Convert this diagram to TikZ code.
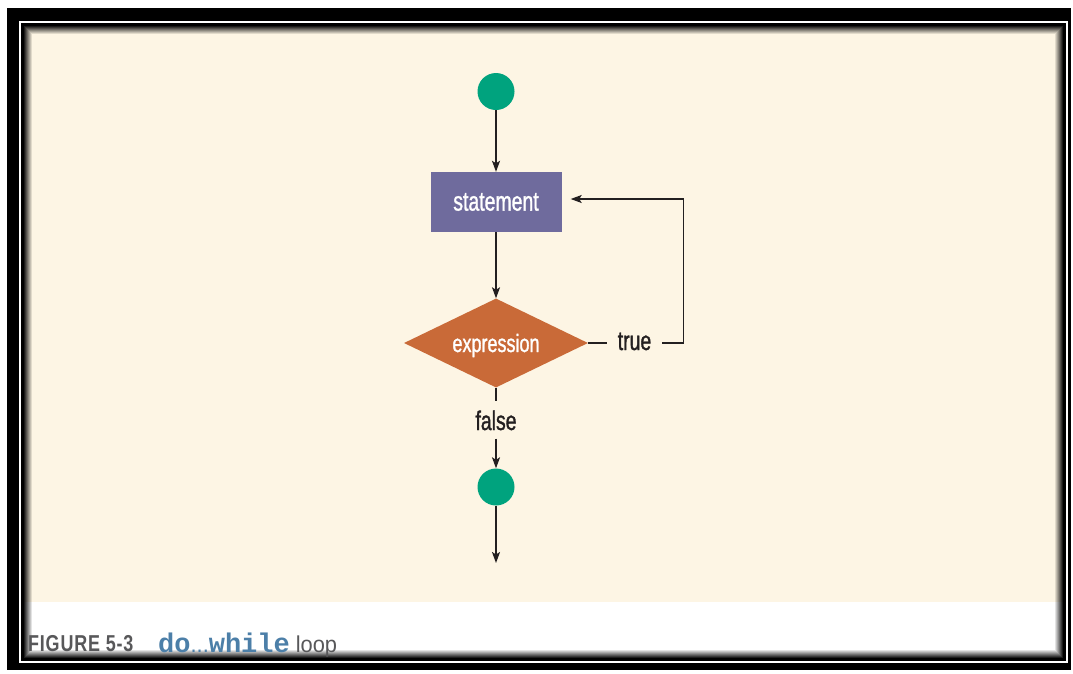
\documentclass[tikz,border=0pt]{standalone}
\usepackage{fontspec}
\usetikzlibrary{arrows.meta,shapes.geometric}

% condensed label face and caption faces
\newfontfamily\labfont[FakeStretch=0.72,FakeBold=1.2]{Liberation Sans}
\newfontfamily\capfont[FakeStretch=0.78,LetterSpace=3.5]{Liberation Sans}
\newfontfamily\plainfont[FakeStretch=0.95]{Liberation Sans}
\newfontfamily\codefont{Liberation Mono}

\definecolor{panelcream}{HTML}{FDF5E4}
\definecolor{termgreen}{HTML}{00A37E}
\definecolor{stmtpurple}{HTML}{6F6B9D}
\definecolor{decorange}{HTML}{C96A38}
\definecolor{linedark}{HTML}{231F20}
\definecolor{capgray}{HTML}{58585A}
\definecolor{codeblue}{HTML}{4C7FA8}

\begin{document}
\begin{tikzpicture}[x=1pt,y=-1pt,
  terminal/.style={circle, fill=termgreen, minimum size=37pt, inner sep=0pt},
  stmtbox/.style={rectangle, fill=stmtpurple, minimum width=131pt, minimum height=60pt,
    inner sep=0pt, text=white, font=\labfont\fontsize{27}{30}\selectfont},
  decision/.style={diamond, aspect=2.07, fill=decorange, minimum width=184pt, minimum height=89pt,
    inner sep=0pt, text=white, text height=18pt, text depth=0pt,
    font=\labfont\fontsize{25}{28}\selectfont},
  branchlabel/.style={text=linedark, inner ysep=0pt, font=\labfont\fontsize{27}{30}\selectfont},
  link/.style={draw=linedark, line width=1.5pt},
  flow/.style={link, -{Stealth[length=11pt,width=8pt,inset=2.5pt]}}
]
\useasboundingbox (0,0) rectangle (1073,673);

% frame: black border, thin white rule, panel with inner shadow
\fill[white] (0,0) rectangle (1073,673);
\fill[black] (7,8) rectangle (1071,670);
\draw[white, line width=2pt] (20,22) rectangle (1067,662);
\fill[white] (21,23) rectangle (1066,661);
\fill[panelcream] (21,23) rectangle (1066,602);
\foreach \i in {0,...,11}{
  \pgfmathsetmacro{\op}{min(1,max(0,1-(\i-2)/9))}
  \draw[black, line width=1pt, draw opacity=\op]
    ({21+\i+0.5},{23+\i+0.5}) rectangle ({1066-\i-0.5},{661-\i-0.5});
}

% flowchart nodes
\node[terminal] (start) at (496,91.5) {};
\node[stmtbox] (stmt) at (496,202) {statement};
\node[decision] (expr) at (496,343) {expression};
\node[branchlabel, inner xsep=11pt, text height=14pt, text depth=0pt] (truelab) at (634.5,343) {true};
\node[branchlabel, inner xsep=2pt, minimum height=37pt, text height=20pt, text depth=0pt] (falselab) at (496,420) {false};
\node[terminal] (stop) at (496,487) {};
\coordinate (exitpt) at (496,563);

% connectors
\draw[flow] (start) -- (stmt);
\draw[flow] (stmt) -- (expr);
\draw[link] (expr.east) -- (truelab.west);
\draw[flow, shorten >=9pt] (truelab.east) -- ++(21,0) |- ([yshift=3pt]stmt.east);
\draw[link] (expr.south) -- (falselab.north);
\draw[flow] (falselab.south) -- (stop);
\draw[flow] (stop) -- (exitpt);

% caption
\node[anchor=base west, inner sep=0pt, text=capgray] (figlabel) at (28,651.5)
  {\capfont\bfseries\fontsize{23}{24}\selectfont FIGURE 5-3};
\node[anchor=base west, inner sep=0pt] (figtitle) at (158,652)
  {{\codefont\bfseries\fontsize{27}{30}\selectfont\color{codeblue}do}%
   {\plainfont\fontsize{23}{26}\selectfont\color{codeblue}...}%
   {\codefont\bfseries\fontsize{27}{30}\selectfont\color{codeblue}while}%
   \hspace{6pt}{\plainfont\fontsize{23}{26}\selectfont\color{capgray}loop}};
\end{tikzpicture}
\end{document}
